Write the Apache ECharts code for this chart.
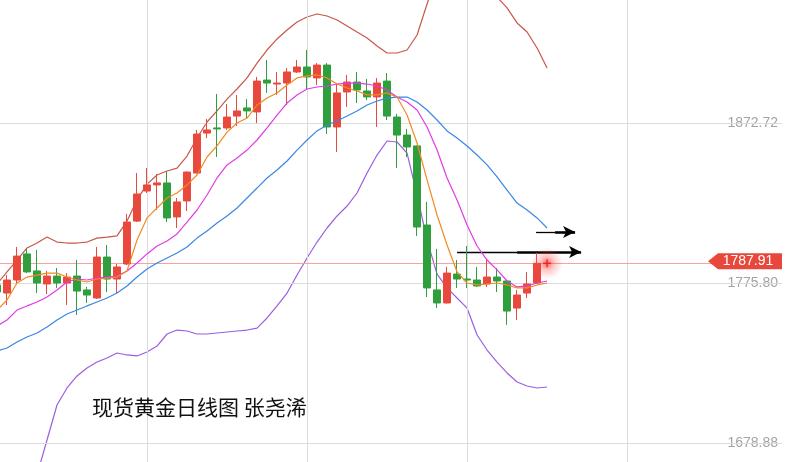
<!DOCTYPE html>
<html>
<head>
<meta charset="utf-8">
<script src="https://cdn.jsdelivr.net/npm/echarts@6/dist/echarts.min.js"></script>
<style>
html,body{margin:0;padding:0;background:#fff;}
#chart{width:785px;height:462px;}
</style>
</head>
<body>
<div id="chart"></div>
<script>
// ---- data ----
const titleText = '现货黄金日线图 张尧浠';
const yTicks = [1678.88, 1775.80, 1872.72];
const lastPrice = 1787.91;
const opens  = [1774.8,1769.9,1777.8,1793.6,1783.3,1775.4,1780.2,1776.0,1780.2,1771.8,1766.9,1791.7,1778.4,1787.5,1813.5,1831.7,1835.4,1836.6,1816.0,1825.7,1842.6,1866.8,1869.9,1869.9,1877.1,1882.0,1879.6,1898.9,1896.5,1897.1,1903.8,1906.8,1900.2,1908.0,1870.5,1891.7,1897.7,1892.3,1888.7,1898.3,1876.5,1865.6,1859.0,1811.1,1771.8,1763.9,1781.4,1778.4,1777.8,1775.4,1779.6,1777.2,1760.8,1769.9,1776.0];
const closes = [1770.5,1777.8,1792.3,1782.7,1776.0,1780.2,1776.0,1779.6,1771.1,1768.7,1791.7,1778.4,1785.7,1812.9,1829.9,1835.4,1836.6,1815.4,1825.1,1843.2,1866.2,1868.7,1869.3,1876.5,1880.2,1880.2,1898.3,1897.1,1897.1,1903.8,1906.8,1900.8,1908.0,1870.5,1891.1,1897.7,1892.9,1888.7,1897.1,1877.1,1865.6,1858.4,1809.9,1773.0,1763.9,1782.0,1778.4,1777.8,1774.2,1779.6,1777.2,1759.0,1768.7,1775.4,1787.9];
const lows   = [1768.7,1762.7,1776.0,1782.0,1769.9,1769.3,1773.0,1762.7,1756.6,1763.9,1766.3,1770.5,1769.9,1786.9,1812.9,1830.5,1820.2,1812.9,1809.3,1819.6,1842.4,1863.8,1852.3,1868.7,1871.1,1875.9,1872.9,1891.1,1889.9,1883.8,1903.2,1893.5,1895.9,1866.2,1855.3,1882.6,1885.0,1886.8,1870.5,1874.7,1845.6,1852.3,1804.5,1767.5,1760.8,1763.5,1773.0,1773.0,1773.6,1773.6,1770.5,1750.6,1753.6,1766.9,1775.8];
const highs  = [1776.0,1780.8,1797.8,1796.6,1796.0,1783.3,1785.1,1782.0,1789.9,1773.6,1797.8,1799.0,1787.5,1817.8,1842.6,1845.6,1842.0,1843.8,1827.5,1843.5,1868.7,1875.3,1890.5,1884.4,1889.9,1887.4,1900.8,1911.1,1903.8,1906.2,1911.1,1917.1,1909.2,1909.2,1896.5,1902.0,1903.8,1899.6,1900.2,1903.2,1878.4,1869.3,1859.3,1825.1,1796.6,1785.7,1789.9,1798.4,1785.7,1789.9,1785.1,1777.5,1771.8,1782.7,1794.2];
const ma5    = [1759.6,1765.7,1776.0,1779.6,1780.8,1782.0,1782.0,1779.6,1777.8,1776.6,1778.4,1779.0,1779.6,1783.3,1802.0,1815.4,1821.4,1827.5,1830.5,1835.4,1841.4,1852.3,1859.0,1867.4,1872.9,1875.9,1883.8,1888.0,1891.1,1895.9,1900.2,1901.4,1902.0,1900.2,1896.5,1894.1,1892.3,1889.9,1889.9,1891.1,1888.6,1877.7,1860.8,1838.4,1817.2,1799.0,1782.7,1776.0,1774.8,1775.4,1776.0,1774.8,1773.0,1773.0,1774.8,1776.0];
const ma10   = [1749.9,1753.6,1759.6,1762.1,1764.5,1767.5,1771.8,1776.6,1778.4,1777.8,1779.0,1779.6,1780.2,1783.3,1788.1,1793.6,1798.4,1801.4,1805.7,1812.9,1820.2,1829.3,1839.6,1847.5,1851.7,1856.5,1862.6,1869.9,1877.7,1885.0,1889.9,1893.5,1894.7,1895.3,1896.5,1897.1,1897.1,1896.5,1895.3,1892.9,1888.6,1885.6,1880.8,1870.5,1856.5,1839.6,1826.3,1811.1,1798.4,1789.9,1783.9,1777.2,1773.6,1774.2,1776.0,1777.2];
const ma20   = [1734.8,1736.6,1740.3,1743.3,1745.7,1749.3,1753.6,1757.2,1759.6,1762.1,1764.5,1766.9,1769.9,1774.2,1779.6,1784.5,1788.1,1791.1,1794.2,1797.8,1803.2,1807.5,1812.3,1816.6,1821.4,1827.5,1833.5,1839.6,1844.4,1849.9,1856.5,1862.6,1868.1,1871.7,1874.1,1877.1,1880.2,1883.8,1886.2,1888.0,1888.6,1888.6,1885.6,1880.8,1874.7,1868.1,1863.8,1859.0,1853.5,1847.5,1840.2,1832.3,1824.4,1820.2,1815.4,1809.3];
const bollUp = [1775.4,1782.7,1789.9,1797.2,1800.2,1803.8,1800.8,1800.2,1800.2,1800.8,1803.2,1803.8,1804.5,1813.5,1826.3,1835.9,1841.4,1843.8,1845.6,1852.9,1863.8,1873.5,1880.2,1887.4,1893.5,1900.2,1909.2,1917.1,1923.8,1929.2,1934.1,1937.1,1938.9,1937.7,1935.3,1931.7,1928.0,1924.4,1919.5,1915.3,1915.3,1917.1,1926.2,1945.0,1962.5,1974.7,1980.7,1977.7,1968.6,1958.3,1949.2,1942.6,1933.5,1928.0,1918.3,1906.2];
const bollDn = [1623.4,1629.4,1635.5,1644.6,1659.7,1680.9,1702.1,1712.4,1719.7,1724.5,1728.1,1730.6,1733.6,1732.4,1731.8,1734.2,1737.8,1745.1,1747.5,1746.9,1745.1,1745.1,1745.7,1746.3,1746.9,1747.5,1748.7,1754.8,1762.1,1769.9,1780.8,1791.1,1800.8,1809.3,1816.6,1822.6,1830.5,1842.6,1853.5,1862.0,1861.4,1854.7,1829.3,1802.0,1781.4,1773.0,1766.9,1760.8,1744.5,1735.4,1728.1,1721.5,1716.0,1713.6,1712.4,1713.0];
const currentIndex = 55;
const arrowLines = [
  {x0: 53.9, xm: 55.8, x1: 57.8, y: 1806.9},
  {x0: 46.0, xm: 52.0, x1: 58.4, y: 1794.8}
];
const vGridIdx = [15, 31, 47, 63];

// ---- build ----
const idx = (arr) => arr.map((v, i) => [i, v]);
const ohlc = opens.map((o, i) => [i, o, closes[i], lows[i], highs[i]]);
const RED = '#e9493d', GREEN = '#2f9f3d';

const chart = echarts.init(document.getElementById('chart'), null, {renderer: 'canvas'});
const lineStyleOf = (c) => ({color: c, width: 1.2});
const lineSeries = (arr, c, z) => ({type: 'line', data: idx(arr), symbol: 'none', lineStyle: lineStyleOf(c), z: z, clip: true, silent: true});

const option = {
  animation: false,
  backgroundColor: '#fff',
  title: {
    text: titleText, left: 87, top: 392,
    textStyle: {fontFamily: 'Noto Sans CJK SC', fontSize: 21, fontWeight: 'normal', color: '#111'}
  },
  grid: {left: 0, right: 0, top: 0, bottom: 0, containLabel: false},
  xAxis: {type: 'value', min: 0.299, max: 78.49, show: false},
  yAxis: {
    type: 'value', position: 'right', min: 1667.57, max: 1947.40, scale: true,
    axisLine: {show: false}, axisTick: {show: false}, splitLine: {show: false},
    axisLabel: {
      inside: true, margin: 0, color: '#a3a3a3', fontSize: 14, fontFamily: 'Liberation Sans, Arial',
      customValues: yTicks, formatter: (v) => v.toFixed(2),
      backgroundColor: '#fff', padding: [2, 4, 2, 3]
    }
  },
  series: [
    {
      type: 'line', data: [], silent: true, z: 1,
      markLine: {
        silent: true, symbol: ['none', 'none'], label: {show: false},
        lineStyle: {color: '#dcdcdc', width: 1, type: 'solid'},
        data: yTicks.map(v => ({yAxis: v})).concat(vGridIdx.map(v => ({xAxis: v})))
      }
    },
    {
      type: 'line', data: [], silent: true, z: 2,
      markLine: {
        silent: true, symbol: ['none', 'none'], label: {show: false},
        lineStyle: {color: '#f2a49d', width: 1, type: 'solid'},
        data: [{yAxis: lastPrice}]
      }
    },
    {
      type: 'candlestick', data: ohlc, encode: {x: 0, y: [1, 2, 3, 4]}, barWidth: 7, z: 5, clip: true,
      itemStyle: {color: RED, color0: GREEN, borderColor: RED, borderColor0: GREEN, borderWidth: 1}
    },
    lineSeries(bollUp, '#c8574b', 4),
    lineSeries(bollDn, '#9a5ee2', 4),
    lineSeries(ma20, '#3a86e2', 6),
    lineSeries(ma10, '#e23ae6', 6),
    lineSeries(ma5, '#f28a22', 6),
    {
      type: 'scatter', data: [[currentIndex, lastPrice]], symbolSize: 32, silent: true, z: 7,
      itemStyle: {color: {type: 'radial', x: 0.5, y: 0.5, r: 0.5, colorStops: [
        {offset: 0, color: 'rgba(255,40,40,0.85)'}, {offset: 0.45, color: 'rgba(255,60,60,0.35)'}, {offset: 1, color: 'rgba(255,80,80,0)'}]}}
    },
    {
      type: 'scatter', data: [[currentIndex, lastPrice]], symbol: 'path://M4,0 L6,0 L6,4 L10,4 L10,6 L6,6 L6,10 L4,10 L4,6 L0,6 L0,4 L4,4 Z',
      symbolSize: 8, silent: true, z: 8, itemStyle: {color: '#f01818'}
    },
    {
      type: 'line', data: [], silent: true, z: 9,
      markLine: {
        silent: true, symbol: ['none', 'none'], label: {show: false},
        lineStyle: {color: '#000', width: 1.3, type: 'solid'},
        data: arrowLines.map(a => [{coord: [a.x0, a.y]}, {coord: [a.xm, a.y]}])
      }
    },
    {
      type: 'line', data: [], silent: true, z: 9,
      markLine: {
        silent: true, symbol: ['none', 'arrow'], symbolSize: [9, 12], label: {show: false},
        lineStyle: {color: '#000', width: 2.6, type: 'solid'},
        data: arrowLines.map(a => [{coord: [a.xm, a.y]}, {coord: [a.x1, a.y]}])
      },
      markPoint: {
        silent: true,
        data: [{
          coord: [78.49, lastPrice],
          symbol: 'path://M0,8 L10,0 L74,0 L74,16 L10,16 Z',
          symbolSize: [74, 16], symbolOffset: [-37, -2], symbolKeepAspect: false,
          itemStyle: {color: '#e8473b'},
          label: {show: true, formatter: lastPrice.toFixed(2), color: '#fff', fontSize: 14,
                  fontFamily: 'Liberation Sans, Arial', offset: [3, 0]}
        }]
      }
    }
  ]
};
chart.setOption(option);
</script>
</body>
</html>
